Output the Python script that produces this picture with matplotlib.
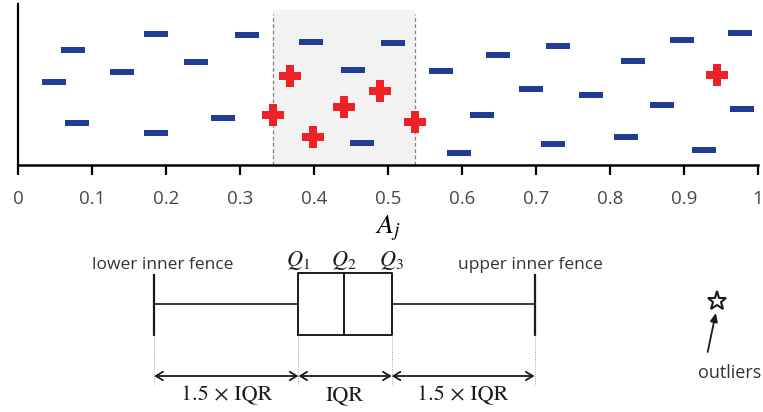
import matplotlib
matplotlib.use("Agg")
import matplotlib.pyplot as plt
from matplotlib.path import Path

plt.rcParams["mathtext.fontset"] = "stix"

# Scattered A_j values (blue: ordinary, red: highlighted members)
blue_x = [0.048, 0.074, 0.080, 0.141, 0.187, 0.187, 0.240, 0.277, 0.309, 0.396,
          0.453, 0.465, 0.507, 0.572, 0.596, 0.627, 0.649, 0.693, 0.723, 0.730,
          0.774, 0.821, 0.831, 0.870, 0.897, 0.927, 0.976, 0.978]
blue_y = [0.517, 0.714, 0.261, 0.578, 0.812, 0.197, 0.640, 0.292, 0.806, 0.764,
          0.588, 0.139, 0.760, 0.586, 0.073, 0.311, 0.683, 0.470, 0.130, 0.741,
          0.433, 0.172, 0.646, 0.373, 0.775, 0.095, 0.818, 0.350]
red_x = [0.345, 0.367, 0.399, 0.440, 0.489, 0.536, 0.945]
red_y = [0.311, 0.551, 0.174, 0.358, 0.460, 0.265, 0.559]

# Shaded interval
band_lo, band_hi = 0.345, 0.537

# Box-plot schematic
lower_fence = 0.184
q1, q2, q3 = 0.379, 0.440, 0.505
upper_fence = 0.698
outlier_x = 0.945

xticks = [0, 0.1, 0.2, 0.3, 0.4, 0.5, 0.6, 0.7, 0.8, 0.9, 1.0]
xtick_labels = ["0", "0.1", "0.2", "0.3", "0.4", "0.5", "0.6", "0.7", "0.8", "0.9", "1"]

W, H = 763, 412
fig = plt.figure(figsize=(W / 100, H / 100), dpi=100)

x0, x1 = 18, 758
ax = fig.add_axes([x0 / W, (H - 165) / H, (x1 - x0) / W, 161 / H])
ax.set_xlim(0, 1)
ax.set_ylim(0, 1)

ax.axvspan(band_lo, band_hi, ymin=0, ymax=0.963, color="#f2f2f2", lw=0, zorder=0)
for xv in (band_lo, band_hi):
    ax.axvline(xv, ymin=0, ymax=0.94, color="#808080", lw=0.9, ls=(0, (3, 2)), zorder=1)

dash = Path([(-1.4, -0.38), (1.4, -0.38), (1.4, 0.38), (-1.4, 0.38), (-1.4, -0.38)],
            [Path.MOVETO, Path.LINETO, Path.LINETO, Path.LINETO, Path.CLOSEPOLY])
ax.scatter(blue_x, blue_y, marker=dash, s=290, color="#1f3d96", lw=0, zorder=3)
ax.scatter(red_x, red_y, marker="P", s=240, color="#ee2127", lw=0, zorder=4)

for s in ("top", "right"):
    ax.spines[s].set_visible(False)
ax.spines["left"].set_linewidth(1.6)
ax.spines["bottom"].set_linewidth(1.8)
ax.set_yticks([])
ax.set_xticks(xticks)
ax.set_xticklabels(xtick_labels, fontfamily="Open Sans", fontsize=13.5, color="#484848")
ax.tick_params(axis="x", direction="out", length=7, width=1.6, pad=11)
ax.set_xlabel(r"$A_j$", fontsize=20, labelpad=4)

# Schematic box plot below
bx = fig.add_axes([x0 / W, 0, (x1 - x0) / W, 240 / H])
bx.set_xlim(0, 1)
bx.set_ylim(0, 240)
bx.axis("off")

lc = "#1a1a1a"
box_bot, box_top, mid = 77, 139, 108
bx.plot([q1, q3, q3, q1, q1], [box_bot, box_bot, box_top, box_top, box_bot], color=lc, lw=1.4)
bx.plot([q2, q2], [box_bot, box_top], color=lc, lw=1.4)
bx.plot([lower_fence, q1], [mid, mid], color=lc, lw=1.2)
bx.plot([q3, upper_fence], [mid, mid], color=lc, lw=1.2)
for xv in (lower_fence, upper_fence):
    bx.plot([xv, xv], [box_bot, box_top - 2], color=lc, lw=1.6)

for xv in (lower_fence, q1, q3, upper_fence):
    bx.plot([xv, xv], [28, box_bot], color="#999999", lw=0.7, ls=(0, (1, 1.5)))

arrow_y = 36
for a, b, lab in ((lower_fence, q1, "1.5 × IQR"),
                  (q1, q3, "IQR"),
                  (q3, upper_fence, "1.5 × IQR")):
    bx.annotate("", xy=(b, arrow_y), xytext=(a, arrow_y),
                arrowprops=dict(arrowstyle="<->,head_length=0.5,head_width=0.3",
                                color=lc, lw=1.3, shrinkA=0, shrinkB=0))
    bx.text((a + b) / 2, 17, lab, ha="center", va="center", fontfamily="STIXGeneral",
            fontsize=16, color=lc)

label_y = 151
bx.text(q1, label_y, r"$Q_1$", ha="center", va="center", fontsize=16, color=lc)
bx.text(q2, label_y, r"$Q_2$", ha="center", va="center", fontsize=16, color=lc)
bx.text(q3, label_y, r"$Q_3$", ha="center", va="center", fontsize=16, color=lc)
bx.text(lower_fence + 0.011, 147, "lower inner fence", ha="center", va="center",
        fontfamily="Open Sans", fontsize=12.5, color="#333333")
bx.text(upper_fence - 0.006, 147, "upper inner fence", ha="center", va="center",
        fontfamily="Open Sans", fontsize=12.5, color="#333333")

bx.plot([outlier_x], [111], marker="*", ms=14, mfc="white", mec=lc, mew=1.5)
bx.annotate("", xy=(outlier_x - 0.002, 99), xytext=(outlier_x - 0.013, 60),
            arrowprops=dict(arrowstyle="-|>,head_length=0.5,head_width=0.22",
                            color=lc, lw=1.3, shrinkA=0, shrinkB=0))
bx.text(outlier_x + 0.016, 39, "outliers", ha="center", va="center",
        fontfamily="Open Sans", fontsize=13, color="#333333", clip_on=False)

fig.savefig("out.png", dpi=100)
